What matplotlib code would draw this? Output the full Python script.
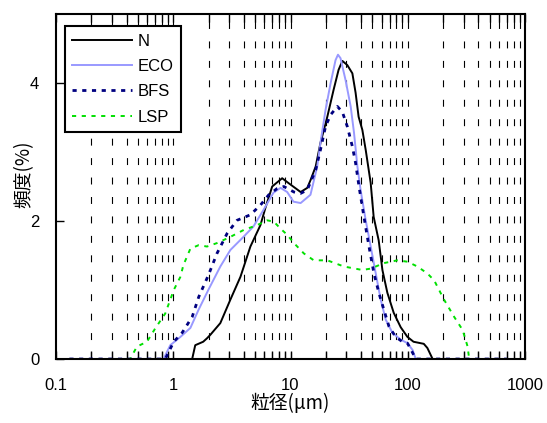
import matplotlib
matplotlib.use("Agg")
import matplotlib.pyplot as plt
from matplotlib.ticker import FixedLocator, NullFormatter, FixedFormatter

plt.rcParams['font.family'] = ['Liberation Sans', 'Noto Sans CJK JP', 'DejaVu Sans']
plt.rcParams['lines.scale_dashes'] = False

# ---- data ----
n_x = [0.13, 1.45, 1.54, 1.80, 1.94, 2.07, 2.52, 3.07, 3.74, 4.55, 5.54, 6.11, 6.98, 8.49, 9.61,
       12.2, 13.9, 14.8, 16.4, 18.0, 20.6, 23.3, 25.7, 27.7, 30.5, 33.7, 35.9, 38.1, 41.0, 43.8,
       48.3, 51.2, 56.5, 60.8, 67.0, 75.9, 87.1, 99.4, 112, 137, 147, 163, 700]
n_y = [0, 0, 0.20, 0.25, 0.30, 0.35, 0.52, 0.86, 1.19, 1.63, 1.94, 2.19, 2.50, 2.62, 2.55,
       2.42, 2.48, 2.59, 2.79, 3.13, 3.51, 3.90, 4.19, 4.32, 4.26, 4.14, 3.86, 3.51, 3.32, 3.03,
       2.55, 2.06, 1.72, 1.29, 0.96, 0.67, 0.46, 0.32, 0.25, 0.22, 0.16, 0, 0]

eco_x = [0.13, 0.826, 0.943, 1.15, 1.40, 1.64, 1.99, 2.52, 3.07, 3.97, 4.83, 5.88, 7.16, 8.22,
         9.37, 10.6, 12.2, 14.8, 16.9, 18.0, 19.9, 22.0, 24.2, 25.4, 26.7, 29.5, 32.6, 34.8, 37.2,
         39.6, 43.8, 48.3, 53.2, 58.8, 64.9, 74.0, 87.1, 99.4, 110, 117, 700]
eco_y = [0, 0, 0.20, 0.32, 0.45, 0.71, 1.00, 1.34, 1.58, 1.77, 1.92, 2.16, 2.41, 2.48,
         2.42, 2.28, 2.26, 2.38, 2.79, 3.13, 3.61, 4.00, 4.33, 4.41, 4.36, 4.04, 3.66, 3.28, 2.79,
         2.45, 2.01, 1.63, 1.25, 0.86, 0.57, 0.38, 0.28, 0.23, 0.13, 0, 0]

bfs_x = [0.13, 0.855, 1.01, 1.19, 1.45, 1.65, 2.0, 2.36, 2.88, 3.50, 4.55, 5.54, 6.53, 7.69,
         8.77, 10.7, 12.2, 13.9, 16.4, 18.0, 19.9, 22.0, 25.1, 27.7, 30.5, 33.7, 35.9, 38.4, 42.3,
         46.7, 51.5, 56.9, 62.7, 69.2, 78.9, 90.1, 99.4, 110, 117, 700]
bfs_y = [0, 0, 0.25, 0.38, 0.61, 0.90, 1.22, 1.53, 1.82, 2.01, 2.09, 2.23, 2.38, 2.47,
         2.50, 2.42, 2.40, 2.45, 2.74, 3.03, 3.37, 3.54, 3.66, 3.58, 3.37, 3.08, 2.84, 2.50, 2.06,
         1.63, 1.24, 0.95, 0.71, 0.47, 0.32, 0.25, 0.23, 0.09, 0, 0]

lsp_x = [0.13, 0.429, 0.49, 0.597, 0.70, 0.855, 1.01, 1.15, 1.22, 1.40, 1.65, 1.94, 2.36, 3.07,
         3.99, 5.19, 6.32, 7.21, 8.22, 9.37, 10.7, 13.0, 15.8, 20.6, 28.6, 41.0, 48.3, 62.7, 81.6,
         99.4, 121, 147, 168, 204, 249, 294, 324, 334, 700]
lsp_y = [0, 0, 0.18, 0.25, 0.44, 0.66, 1.00, 1.19, 1.36, 1.60, 1.65, 1.63, 1.68, 1.77,
         1.87, 1.94, 2.01, 1.99, 1.89, 1.80, 1.68, 1.53, 1.43, 1.43, 1.34, 1.29, 1.31, 1.39, 1.43,
         1.41, 1.34, 1.24, 1.14, 0.86, 0.61, 0.42, 0.18, 0, 0]

series_names = ['N', 'ECO', 'BFS', 'LSP']
x_ticks = [0.1, 1, 10, 100, 1000]
x_tick_labels = ['0.1', '1', '10', '100', '1000']
y_ticks = [0, 2, 4]

# ---- figure ----
fig = plt.figure(figsize=(5.47, 4.23), dpi=100)
ax = fig.add_axes([56/547, 64/423, 469/547, 345/423])

ax.set_xscale('log')
ax.set_xlim(0.1, 1000)
ax.set_ylim(0, 5)

# dashed vertical grid at every tick position
minor_pos = [m * 10.0**e for e in range(-1, 3) for m in range(2, 10)]
grid_pos = sorted(minor_pos + [1, 10, 100])
for gx in grid_pos:
    ax.axvline(gx, color='black', lw=0.8, linestyle=(0, (5, 9)), zorder=1)

ax.plot(n_x, n_y, color='black', lw=1.4, label=series_names[0], zorder=3)
ax.plot(eco_x, eco_y, color='#9999ff', lw=1.4, label=series_names[1], zorder=3)
ax.plot(bfs_x, bfs_y, color='#000080', lw=2.0, linestyle=(0, (3, 4)), label=series_names[2], zorder=3)
ax.plot(lsp_x, lsp_y, color='#00e000', lw=1.4, linestyle=(0, (3, 4)), label=series_names[3], zorder=3)

ax.xaxis.set_major_locator(FixedLocator(x_ticks))
ax.xaxis.set_major_formatter(FixedFormatter(x_tick_labels))
ax.xaxis.set_minor_locator(FixedLocator(minor_pos))
ax.xaxis.set_minor_formatter(NullFormatter())
ax.set_yticks(y_ticks)
ax.set_yticklabels([str(v) for v in y_ticks])

ax.tick_params(axis='x', which='both', direction='in', top=True, bottom=True,
               length=6, width=1, labelsize=12, pad=14)
ax.tick_params(axis='y', which='both', direction='in', left=True, right=False,
               length=6, width=1, labelsize=12, pad=12)
for sp in ax.spines.values():
    sp.set_linewidth(1.5)
    sp.set_color('black')
    sp.set_zorder(5)

ax.set_xlabel('粒径(μm)', fontsize=13.5, family=['Noto Sans CJK JP'], labelpad=0)
ax.set_ylabel('頻度(%)', fontsize=13.5, family=['Noto Sans CJK JP'])
ax.yaxis.set_label_coords(-0.045, 0.535)

leg = ax.legend(loc='upper left', bbox_to_anchor=(0.019, 0.965), frameon=True, fancybox=False,
                edgecolor='black', fontsize=12, handlelength=3.6, handletextpad=0.3,
                labelspacing=0.62, borderpad=0.45, borderaxespad=0, framealpha=1)
leg.get_frame().set_linewidth(1.5)
leg.set_zorder(6)

fig.savefig('out.png', dpi=100)
